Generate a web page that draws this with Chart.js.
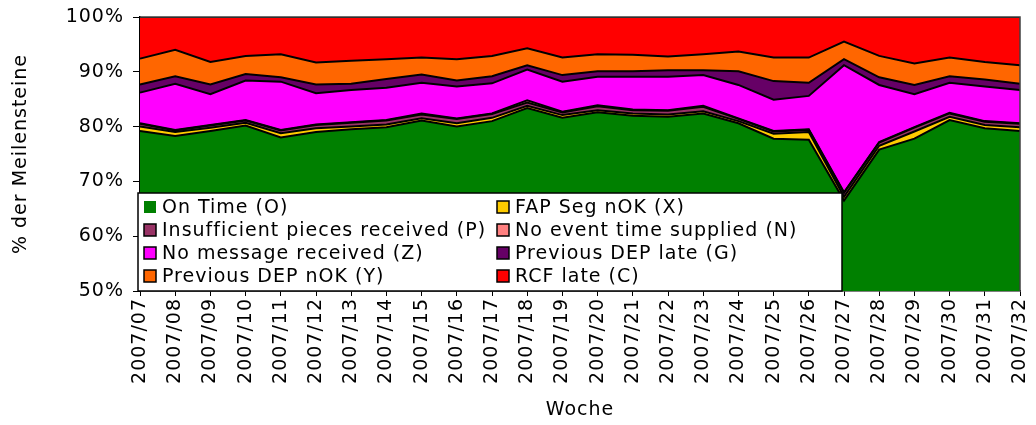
<!DOCTYPE html>
<html>
<head>
<meta charset="utf-8">
<script src="https://cdn.jsdelivr.net/npm/chart.js@4.4.0/dist/chart.umd.min.js"></script>
<style>
  html, body { margin: 0; padding: 0; background: #fff; }
  #wrap { width: 1036px; height: 425px; }
</style>
</head>
<body>
<div id="wrap"><canvas id="chart"></canvas></div>
<script>
/* Meilensteine pro Woche - stacked area, 50%..100% */
var WEEKS = ['2007/07', '2007/08', '2007/09', '2007/10', '2007/11', '2007/12', '2007/13',
  '2007/14', '2007/15', '2007/16', '2007/17', '2007/18', '2007/19', '2007/20', '2007/21',
  '2007/22', '2007/23', '2007/24', '2007/25', '2007/26', '2007/27', '2007/28', '2007/29',
  '2007/30', '2007/31', '2007/32'];

var ON_TIME      = [79.2, 78.3, 79.2, 80.2, 78.0, 79.0, 79.5, 79.9, 81.1, 80.0, 81.0, 83.4, 81.6,
                    82.6, 82.0, 81.8, 82.4, 80.6, 77.8, 77.6, 66.5, 75.8, 77.8, 81.2, 79.7, 79.2];
var FAP_SEG      = [0.8, 0.7, 0.6, 0.5, 0.8, 0.7, 0.5, 0.5, 0.4, 0.6, 0.6, 0.4, 0.5,
                    0.4, 0.4, 0.4, 0.4, 0.4, 0.9, 1.4, 0.7, 0.7, 1.3, 0.6, 0.6, 0.7];
var INSUFFICIENT = [0.5, 0.3, 0.4, 0.4, 0.5, 0.6, 0.7, 0.7, 0.7, 0.8, 0.7, 0.6, 0.5,
                    0.7, 0.6, 0.7, 0.8, 0.4, 0.4, 0.4, 0.7, 0.6, 0.7, 0.6, 0.6, 0.6];
var NO_EVENT     = [0.1, 0.1, 0.1, 0.1, 0.1, 0.1, 0.1, 0.1, 0.2, 0.1, 0.1, 0.4, 0.1,
                    0.2, 0.1, 0.1, 0.2, 0.1, 0.1, 0.1, 0.1, 0.1, 0.1, 0.1, 0.1, 0.1];
var NO_MESSAGE   = [5.6, 8.4, 5.6, 7.2, 8.8, 5.7, 5.9, 5.9, 5.6, 5.8, 5.5, 5.6, 5.5,
                    5.2, 6.0, 6.1, 5.6, 6.1, 5.7, 6.1, 23.2, 10.4, 6.0, 5.5, 6.3, 6.1];
var PREV_LATE    = [1.5, 1.4, 1.8, 1.2, 0.8, 1.6, 1.1, 1.6, 1.5, 1.1, 1.3, 0.8, 1.2,
                    1.0, 1.0, 1.2, 0.9, 2.5, 3.4, 2.4, 1.1, 1.4, 1.7, 1.2, 1.3, 1.1];
var PREV_NOK     = [4.7, 4.8, 4.1, 3.3, 4.2, 4.0, 4.2, 3.6, 3.1, 3.9, 3.7, 3.1, 3.2,
                    3.1, 3.0, 2.5, 2.9, 3.6, 4.3, 4.6, 3.2, 3.9, 3.9, 3.4, 3.2, 3.4];
var RCF_LATE     = [7.6, 6.0, 8.2, 7.1, 6.8, 8.3, 8.0, 7.7, 7.4, 7.7, 7.1, 5.7, 7.4,
                    6.8, 6.9, 7.2, 6.8, 6.3, 7.4, 7.4, 4.5, 7.1, 8.5, 7.4, 8.2, 8.8];

var Y_TICKS = [50, 60, 70, 80, 90, 100];

var SERIES = [
  { label: 'On Time (O)',                  data: ON_TIME,      color: '#008000' },
  { label: 'FAP Seg nOK (X)',              data: FAP_SEG,      color: '#FFCC00' },
  { label: 'Insufficient pieces received (P)', data: INSUFFICIENT, color: '#993366' },
  { label: 'No event time supplied (N)',   data: NO_EVENT,     color: '#FF8080' },
  { label: 'No message received (Z)',      data: NO_MESSAGE,   color: '#FF00FF' },
  { label: 'Previous DEP late (G)',        data: PREV_LATE,    color: '#660066' },
  { label: 'Previous DEP nOK (Y)',         data: PREV_NOK,     color: '#FF6600' },
  { label: 'RCF late (C)',                 data: RCF_LATE,     color: '#FF0000' }
];

var FONT = 'DejaVu Sans, Verdana, sans-serif';
var FONT_SIZE = 19;
var SPACING = '1px';

var datasets = SERIES.map(function(s, i) {
  return {
    label: s.label,
    data: s.data,
    backgroundColor: s.color,
    borderColor: '#000',
    borderWidth: 2,
    pointRadius: 0,
    tension: 0,
    fill: i === 0 ? 'origin' : '-1'
  };
});

/* letter spacing gets lost whenever the canvas is resized */
var spacingPlugin = {
  id: 'spacing',
  beforeLayout: function(chart) { chart.ctx.letterSpacing = SPACING; },
  beforeDraw: function(chart) { chart.ctx.letterSpacing = SPACING; }
};

/* frame around the plot and the boxed legend inside it */
var legendBoxPlugin = {
  id: 'legendBox',
  afterDatasetsDraw: function(chart) {
    var ctx = chart.ctx, a = chart.chartArea;
    ctx.save();
    ctx.letterSpacing = SPACING;
    var bx = a.left - 2, by = a.bottom - 98, bw = 704, bh = 98;
    ctx.fillStyle = '#fff';
    ctx.fillRect(bx, by, bw, bh);
    ctx.strokeStyle = '#000';
    ctx.lineWidth = 1.5;
    ctx.strokeRect(bx, by, bw, bh);

    ctx.font = FONT_SIZE + 'px ' + FONT;
    ctx.textBaseline = 'middle';
    ctx.textAlign = 'left';
    SERIES.forEach(function(s, i) {
      var col = i % 2, row = Math.floor(i / 2);
      var mx = a.left + (col === 0 ? 4 : 357);
      var cy = by + 14 + row * 23;
      ctx.fillStyle = s.color;
      ctx.fillRect(mx, cy - 6, 12, 12);
      if (i > 0) {
        ctx.strokeStyle = '#000';
        ctx.lineWidth = 1.5;
        ctx.strokeRect(mx, cy - 6, 12, 12);
      }
      ctx.fillStyle = '#000';
      ctx.fillText(s.label, mx + 18, cy + 1);
    });
    ctx.restore();
  },
  afterDraw: function(chart) {
    var ctx = chart.ctx, a = chart.chartArea;
    ctx.save();
    ctx.strokeStyle = '#404040';
    ctx.lineWidth = 1.5;
    ctx.beginPath();
    ctx.moveTo(a.left, a.top);
    ctx.lineTo(a.right, a.top);
    ctx.lineTo(a.right, a.bottom);
    ctx.stroke();
    ctx.restore();
  }
};

new Chart(document.getElementById('chart').getContext('2d'), {
  type: 'line',
  data: { labels: WEEKS, datasets: datasets },
  plugins: [spacingPlugin, legendBoxPlugin],
  options: {
    responsive: true,
    maintainAspectRatio: false,
    animation: false,
    layout: { padding: { left: 0, right: 16, top: 17, bottom: 0 } },
    plugins: {
      legend: { display: false },
      tooltip: { enabled: false }
    },
    scales: {
      x: {
        afterFit: function(scale) {
          scale.height = 134;
          scale.paddingLeft = 0;
          scale.paddingRight = 0;
        },
        grid: { drawOnChartArea: false, color: '#000', tickLength: 5 },
        border: { color: '#000', width: 1.5 },
        ticks: {
          color: '#000', autoSkip: false, minRotation: 90, maxRotation: 90, padding: 2,
          font: { family: FONT, size: FONT_SIZE }
        },
        title: {
          display: true, text: 'Woche', color: '#000',
          font: { family: FONT, size: FONT_SIZE, lineHeight: 1.2 },
          padding: { top: 0, bottom: 4 }
        }
      },
      y: {
        stacked: true,
        min: Y_TICKS[0],
        max: Y_TICKS[Y_TICKS.length - 1],
        afterFit: function(scale) {
          scale.width = 140;
          scale.paddingTop = 0;
          scale.paddingBottom = 0;
        },
        afterBuildTicks: function(scale) {
          scale.ticks = Y_TICKS.map(function(v) { return { value: v }; });
        },
        grid: { drawOnChartArea: false, color: '#000', tickLength: 7 },
        border: { color: '#000', width: 1.5 },
        ticks: {
          color: '#000', padding: 9,
          font: { family: FONT, size: FONT_SIZE },
          callback: function(v) { return v + '%'; }
        },
        title: {
          display: true, text: '% der Meilensteine', color: '#000',
          font: { family: FONT, size: FONT_SIZE, lineHeight: 1.2 },
          padding: { top: 10, bottom: 0 }
        }
      }
    }
  }
});
</script>
</body>
</html>
